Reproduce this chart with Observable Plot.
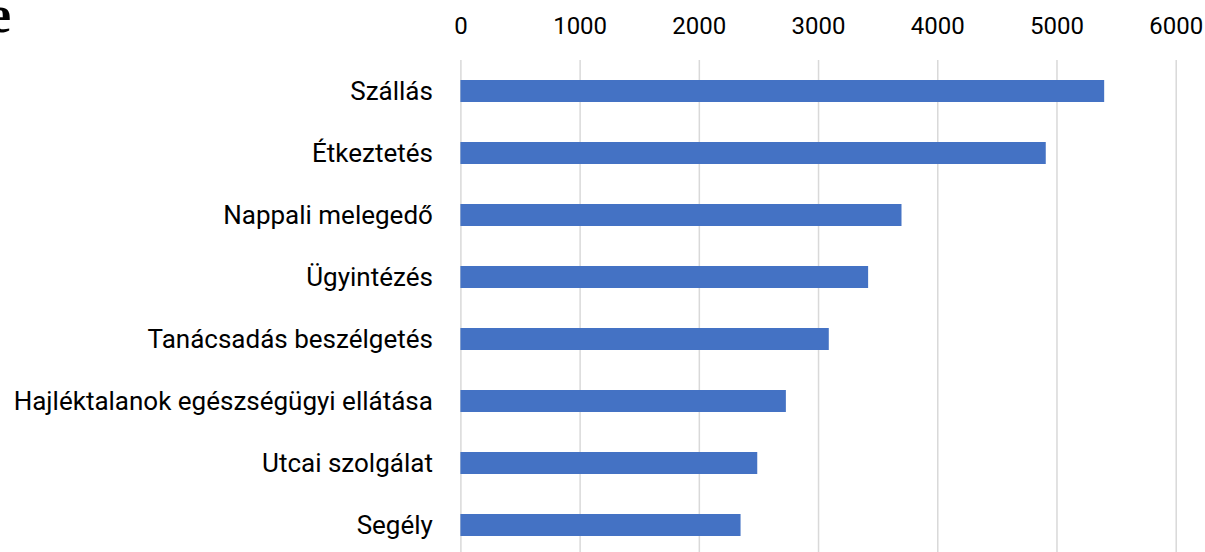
<!DOCTYPE html>
<html>
<head>
<meta charset="utf-8">
<script src="https://cdn.jsdelivr.net/npm/d3@7"></script>
<script src="https://cdn.jsdelivr.net/npm/@observablehq/plot@0.6"></script>
<style>
  html, body { margin: 0; padding: 0; overflow: hidden; background: #fff; }
  #wrap { position: relative; width: 1205px; height: 552px; overflow: hidden; }
  #title { position: absolute; left: -12px; top: -11.5px; font: bold 52px "Liberation Serif", "DejaVu Serif", serif; line-height: 52px; color: #000; white-space: nowrap; }
  #chart { position: absolute; left: 0; top: 0; }
</style>
</head>
<body>
<div id="wrap">
  <div id="chart"></div>
  <div id="title">e</div>
</div>
<script>
const categories = ["Szállás", "Étkeztetés", "Nappali melegedő", "Ügyintézés", "Tanácsadás beszélgetés", "Hajléktalanok egészségügyi ellátása", "Utcai szolgálat", "Segély"];
const values = [5400, 4910, 3700, 3420, 3090, 2730, 2490, 2350];
const xTicks = [0, 1000, 2000, 3000, 4000, 5000, 6000];

const data = categories.map((c, i) => ({category: c, value: values[i]}));

const chart = Plot.plot({
  width: 1205,
  height: 556,
  marginTop: 60,
  marginBottom: 0,
  marginLeft: 460.4,
  marginRight: 29.3,
  style: {fontFamily: "Roboto", color: "#000", background: "#fff"},
  x: {domain: [0, 6000], ticks: xTicks},
  y: {domain: categories, paddingInner: 0.645, paddingOuter: 0.3225},
  marks: [
    Plot.gridX(xTicks, {stroke: "#d9d9d9", strokeOpacity: 1, strokeWidth: 1.5}),
    Plot.barX(data, {x: "value", y: "category", fill: "#4472C4"}),
    Plot.axisX(xTicks, {anchor: "top", tickSize: 0, tickPadding: 27, fontSize: 24, fill: "#000", label: null, tickFormat: d => String(d)}),
    Plot.axisY({anchor: "left", tickSize: 0, tickPadding: 28, fontSize: 26, fill: "#000", label: null})
  ]
});
document.getElementById("chart").appendChild(chart);
</script>
</body>
</html>
